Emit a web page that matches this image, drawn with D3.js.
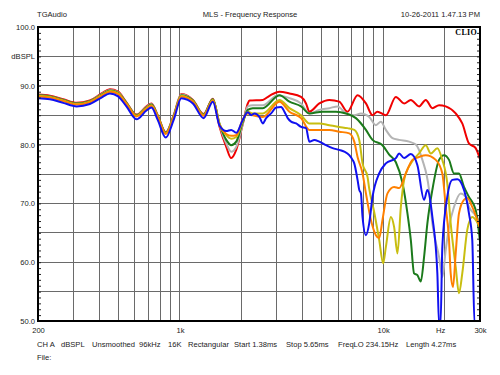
<!DOCTYPE html>
<html>
<head>
<meta charset="utf-8">
<script src="https://cdn.jsdelivr.net/npm/d3@7"></script>
<style>
  body { margin: 0; background: #fff; }
  svg { display: block; font-family: "Liberation Sans", Arial, sans-serif; }
</style>
</head>
<body>
<svg id="chart"></svg>
<script>
// header / footer texts
const headerLeft = "TGAudio";
const headerTitle = "MLS - Frequency Response";
const headerRight = "10-26-2011 1.47.13 PM";
const infoItems = ["CH A", "dBSPL", "Unsmoothed", "96kHz", "16K", "Rectangular",
                   "Start 1.38ms", "Stop 5.65ms", "FreqLO 234.15Hz", "Length 4.27ms"];
const infoX = [37, 61, 92, 139, 168, 188, 234, 286, 338, 406];

// axes
const yTickValues = [50, 60, 70, 80, 90, 95, 100];
const yTickLabels = ["50.0", "60.0", "70.0", "80.0", "90.0", "dBSPL", "100.0"];
const xTickValues = [200, 1000, 10000, 20000, 30000];
const xTickLabels = ["200", "1k", "10k", "Hz", "30k"];
const gridFreqs = [300, 400, 500, 600, 700, 800, 900, 1000,
                   2000, 3000, 4000, 5000, 6000, 7000, 8000, 9000, 10000, 20000];
const gridDb = [55, 60, 65, 70, 75, 80, 85, 90, 95];

// shared low band (Hz), then dB per curve
const lowFreqs = [200, 229, 266, 310, 360, 411, 452, 496, 545, 611, 684, 724, 777, 851, 931, 1016, 1091, 1158, 1307, 1452];
const redLow    = [88.5, 88.3, 87.7, 87.1, 87.5, 88.7, 89.4, 89.0, 87.2, 85.1, 86.5, 87.0, 85.0, 82.1, 85.0, 88.6, 88.3, 87.6, 85.2, 87.8];
const grayLow   = [88.4, 88.2, 87.6, 87.0, 87.4, 88.6, 89.3, 88.9, 87.1, 85.0, 86.4, 86.9, 84.9, 82.0, 84.9, 88.5, 88.2, 87.5, 85.1, 87.7];
const greenLow  = [88.4, 88.2, 87.6, 87.0, 87.4, 88.5, 89.2, 88.8, 87.1, 85.0, 86.3, 86.8, 84.9, 82.0, 84.8, 88.4, 88.1, 87.5, 85.1, 87.7];
const yellowLow = [88.3, 88.1, 87.5, 86.9, 87.3, 88.4, 89.1, 88.7, 87.0, 84.9, 86.2, 86.7, 84.8, 81.9, 84.7, 88.3, 88.0, 87.4, 85.0, 87.6];
const orangeLow = [88.2, 88.0, 87.4, 86.8, 87.2, 88.3, 89.0, 88.6, 86.9, 84.8, 86.1, 86.6, 84.7, 81.8, 84.6, 88.2, 87.9, 87.3, 84.9, 87.5];
const blueLow   = [87.9, 87.7, 87.1, 86.5, 86.9, 88.0, 88.7, 88.2, 86.5, 84.3, 85.8, 86.3, 84.2, 81.2, 84.2, 87.9, 87.6, 87.0, 84.5, 87.3];

// upper band, [Hz, dB]
const redHigh = [[1567,83.0],[1690,79.6],[1787,77.7],[1892,79.1],[2038,83.5],[2158,87.0],[2199,87.5],[2557,87.6],
  [2758,88.3],[3088,89.0],[3458,88.7],[3947,88.1],[4174,87.0],[4335,85.6],[4853,87.0],[5436,87.6],[6083,87.3],
  [6683,85.6],[7486,88.4],[8233,87.0],[8870,85.0],[9377,85.6],[10321,85.0],[11560,88.1],[12694,87.0],[13692,87.6],
  [15039,86.5],[16223,87.6],[17482,86.2],[18860,86.7],[20345,86.5],[22775,85.3],[24539,83.6],[26470,80.2],
  [28560,79.4],[30000,77.5]];
const grayHigh = [[1567,83.3],[1690,80.2],[1787,78.8],[1892,79.6],[2038,83.5],[2158,86.5],[2283,86.7],[2557,86.7],
  [3030,88.4],[3458,87.9],[3947,87.0],[4335,85.3],[4853,85.9],[5436,86.2],[5970,86.5],[6566,85.3],[7211,85.0],
  [7780,85.3],[8545,84.7],[9217,83.3],[9753,83.9],[10321,82.5],[11124,81.1],[11995,80.8],[13430,80.5],[14488,80.0],
  [15611,77.4],[16840,72.3],[17482,66.6],[18860,60.9],[19575,57.5],[20345,62.1],[21115,66.0],[22340,69.4],
  [24100,71.7],[25500,71.1],[26470,69.4],[28020,68.3],[30000,67.0]];
const greenHigh = [[1567,83.5],[1690,80.8],[1787,79.9],[1892,80.5],[2038,83.8],[2158,85.9],[2283,86.2],[2557,86.2],
  [3088,88.4],[3458,87.3],[3947,86.5],[4335,85.3],[5038,85.6],[5864,85.6],[6566,85.3],[7350,84.5],[8233,82.5],
  [8870,80.8],[9931,79.9],[10716,78.3],[11560,77.0],[12451,73.5],[13180,68.3],[13692,63.8],[14210,58.1],[14755,57.8],
  [15330,56.7],[15916,60.9],[16521,66.6],[17482,72.3],[18860,77.4],[19950,78.2],[21115,77.4],[22340,75.1],
  [23640,75.1],[25020,72.8],[26470,71.1],[28560,68.9],[30000,63.5]];
const yellowHigh = [[1567,83.5],[1690,81.6],[1787,81.0],[1892,81.3],[2038,84.0],[2158,85.6],[2283,85.3],[2557,85.3],
  [3088,87.6],[3458,86.2],[3947,85.0],[4335,83.6],[4853,83.6],[5436,83.3],[6083,83.0],[6683,82.8],[7211,82.5],
  [7631,80.8],[7922,76.8],[8383,74.5],[8545,72.5],[9043,68.5],[9567,63.8],[10010,59.8],[10321,62.6],[10920,67.7],
  [11330,66.0],[11770,61.5],[12230,69.4],[12694,74.0],[13692,76.8],[15039,78.5],[16223,79.9],[17170,78.5],
  [18500,79.4],[19575,77.4],[20707,73.4],[21520,66.6],[22775,59.2],[23640,54.7],[24539,58.1],[25970,65.5],
  [27480,67.7],[29090,66.8],[30000,66.0]];
const orangeHigh = [[1567,83.3],[1690,81.8],[1787,81.5],[1892,81.6],[2038,84.3],[2158,85.3],[2283,85.0],[2557,84.7],
  [3088,87.3],[3458,85.6],[3947,84.5],[4335,82.5],[4853,82.5],[5436,82.5],[6083,82.2],[6816,81.9],[7211,80.5],
  [7486,77.9],[7922,75.1],[8233,71.7],[8710,67.2],[9217,64.6],[9567,64.1],[9931,67.2],[10510,71.7],[11330,72.8],
  [11995,72.6],[12938,75.1],[13941,77.4],[15039,77.9],[16223,78.2],[18170,77.4],[19575,75.1],[20345,69.4],
  [21115,63.8],[21520,58.1],[22090,55.8],[22775,61.5],[23640,68.3],[25020,70.6],[25970,70.9],[27480,69.4],
  [30000,65.8]];
const blueHigh = [[1567,83.2],[1690,82.3],[1787,82.5],[1892,82.0],[2038,84.2],[2158,85.5],[2242,85.0],[2327,85.3],
  [2462,84.7],[2557,83.6],[2656,84.5],[2810,85.3],[2975,86.3],[3148,86.4],[3268,85.6],[3392,84.5],[3524,83.9],
  [3731,83.6],[3947,83.0],[4174,82.8],[4335,80.5],[4586,80.8],[4853,80.5],[5236,79.9],[5642,79.4],[6083,79.1],
  [6440,78.8],[6816,78.2],[7074,77.4],[7211,76.8],[7486,74.0],[7631,72.3],[7780,71.7],[7922,67.7],[8233,64.6],
  [8545,66.6],[8870,71.1],[9567,75.1],[10321,76.8],[11560,77.7],[11995,78.5],[12694,77.7],[13692,78.4],
  [14755,76.5],[15916,70.6],[16521,72.3],[17482,67.7],[18500,58.1],[18860,49.5],[19180,49.5],[19575,62.6],
  [20707,71.1],[21916,74.0],[23192,74.1],[24539,73.1],[26470,68.3],[27480,63.8],[28200,49.5],[30000,49.5]];

const curves = [
  {color: '#f00000', low: redLow,    high: redHigh},
  {color: '#b4b4b4', low: grayLow,   high: grayHigh},
  {color: '#1b7a1b', low: greenLow,  high: greenHigh},
  {color: '#c8be10', low: yellowLow, high: yellowHigh},
  {color: '#ff8000', low: orangeLow, high: orangeHigh},
  {color: '#1010f0', low: blueLow,   high: blueHigh}
];

const svgWidth = 500, svgHeight = 375;
const plotLeft = 38, plotRight = 480, plotTop = 27, plotBottom = 321;

const svg = d3.select('#chart').attr('width', svgWidth).attr('height', svgHeight);

const x = d3.scaleLog().domain([200, 30000]).range([plotLeft, plotRight]);
const y = d3.scaleLinear().domain([50, 100]).range([plotBottom, plotTop]);

// grid
let grid = svg.append('g').attr('shape-rendering', 'crispEdges');
grid.selectAll('line.v').data(gridFreqs).enter().append('line')
    .attr('x1', d => x(d)).attr('x2', d => x(d))
    .attr('y1', plotTop).attr('y2', plotBottom)
    .attr('stroke', '#6a6a6a');
grid.selectAll('line.h').data(gridDb).enter().append('line')
    .attr('x1', plotLeft).attr('x2', plotRight)
    .attr('y1', d => y(d)).attr('y2', d => y(d))
    .attr('stroke', '#6a6a6a');

// curves
svg.append('clipPath').attr('id', 'plot')
    .append('rect').attr('x', plotLeft).attr('y', plotTop)
    .attr('width', plotRight - plotLeft).attr('height', plotBottom - plotTop);

let line = d3.line()
    .x(d => x(d[0]))
    .y(d => y(d[1]))
    .curve(d3.curveMonotoneX);

let g = svg.append('g').attr('clip-path', 'url(#plot)');
curves.forEach(c => {
    let pts = lowFreqs.map((f, i) => [f, c.low[i]]).concat(c.high);
    g.append('path')
        .attr('fill', 'none')
        .attr('stroke', c.color)
        .attr('stroke-width', 2)
        .attr('stroke-linejoin', 'round')
        .attr('d', line(pts));
});

// minor ticks every dB, inside left and right edges
let minor = d3.range(50, 101);
svg.append('g').attr('transform', 'translate(' + plotLeft + ',0)')
    .call(d3.axisLeft(y).tickValues(minor).tickSize(-3).tickFormat(''))
    .call(a => a.select('.domain').remove())
    .selectAll('line').attr('stroke', '#222');
svg.append('g').attr('transform', 'translate(' + plotRight + ',0)')
    .call(d3.axisRight(y).tickValues(minor).tickSize(-3).tickFormat(''))
    .call(a => a.select('.domain').remove())
    .selectAll('line').attr('stroke', '#222');

// frame
svg.append('rect')
    .attr('x', plotLeft).attr('y', plotTop)
    .attr('width', plotRight - plotLeft).attr('height', plotBottom - plotTop)
    .attr('fill', 'none').attr('stroke', '#000').attr('stroke-width', 2);

// tick labels
let axLeft = svg.append('g').attr('transform', 'translate(' + plotLeft + ',0)')
    .call(d3.axisLeft(y).tickValues(yTickValues).tickSize(0).tickPadding(3)
        .tickFormat((d, i) => yTickLabels[i]));
axLeft.select('.domain').remove();

let axBottom = svg.append('g').attr('transform', 'translate(0,' + plotBottom + ')')
    .call(d3.axisBottom(x).tickValues(xTickValues).tickSize(0).tickPadding(7)
        .tickFormat((d, i) => xTickLabels[i]));
axBottom.select('.domain').remove();
axBottom.selectAll('text').filter(d => d === 20000).attr('dx', -4);

svg.selectAll('.tick text')
    .attr('font-family', '"Liberation Sans", Arial, sans-serif')
    .attr('font-size', 7.6)
    .attr('fill', '#222');

// header
let txt = (s, px, py, anchor) => svg.append('text')
    .attr('x', px).attr('y', py)
    .attr('text-anchor', anchor || 'start')
    .attr('font-size', 7.6).attr('fill', '#222')
    .text(s);

txt(headerLeft, 37, 17);
txt(headerTitle, 250, 17, 'middle');
txt(headerRight, 480, 17, 'end');

svg.append('text')
    .attr('x', 477).attr('y', 35)
    .attr('text-anchor', 'end')
    .attr('font-size', 8).attr('font-weight', 'bold')
    .attr('font-family', '"Liberation Serif", serif')
    .attr('letter-spacing', 0.3)
    .text('CLIO');

// footer
infoItems.forEach((s, i) => txt(s, infoX[i], 347));
txt('File:', 37, 360);
</script>
</body>
</html>
